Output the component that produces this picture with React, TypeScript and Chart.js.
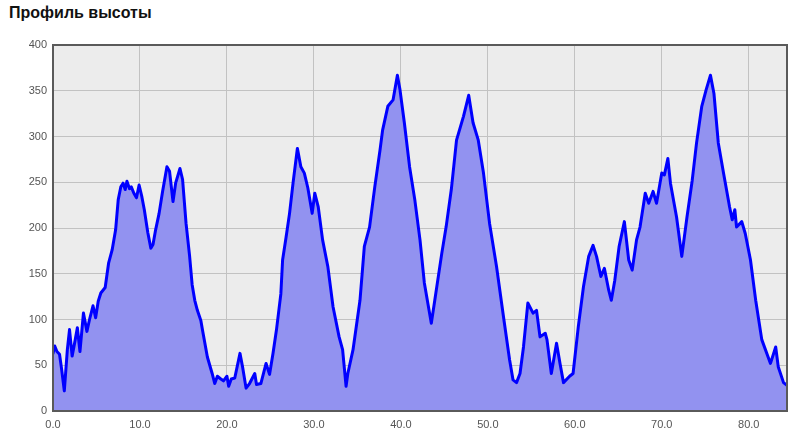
import React, { useEffect, useRef } from "react";
import { Chart, registerables } from "chart.js";

Chart.register(...registerables);

const TITLE = "Профиль высоты";

const distanceKm = [
  0, 0.2, 0.45, 0.75, 1.0, 1.3, 1.65, 1.9, 2.2, 2.5, 2.8, 3.1, 3.5, 3.9, 4.2, 4.6, 4.9, 5.2, 5.5, 6.0,
  6.4, 6.8, 7.2, 7.5, 7.8, 8.06, 8.3, 8.5, 8.8, 9.0, 9.3, 9.6, 9.9, 10.2, 10.5, 10.9, 11.25, 11.5, 11.8, 12.2,
  12.6, 13.1, 13.4, 13.8, 14.1, 14.6, 14.9, 15.3, 15.7, 16.0, 16.3, 16.6, 17.0, 17.2, 17.75, 18.3, 18.6, 18.9, 19.3, 19.6,
  20.0, 20.2, 20.5, 20.9, 21.5, 21.8, 22.2, 22.6, 23.2, 23.4, 23.9, 24.5, 24.9, 25.3, 25.7, 26.2, 26.4, 26.8, 27.2, 27.6,
  28.1, 28.5, 28.9, 29.3, 29.8, 30.1, 30.5, 31.0, 31.6, 32.2, 32.9, 33.3, 33.7, 33.9, 34.5, 35.3, 35.8, 36.4, 37.0, 37.6,
  37.9, 38.5, 39.1, 39.6, 39.9, 40.4, 41.0, 41.6, 42.2, 42.7, 43.5, 43.9, 44.7, 45.2, 45.8, 46.4, 47.2, 47.8, 48.3, 48.9,
  49.5, 50.2, 51.0, 51.8, 52.5, 52.9, 53.3, 53.7, 54.1, 54.6, 55.2, 55.6, 56.0, 56.6, 56.8, 57.3, 57.9, 58.3, 58.7, 59.4,
  59.8, 60.4, 61.0, 61.6, 62.1, 62.5, 63.0, 63.4, 63.9, 64.2, 64.6, 65.1, 65.7, 66.2, 66.6, 67.1, 67.5, 68.1, 68.5, 69.0,
  69.4, 70.0, 70.3, 70.7, 71.0, 71.7, 72.3, 72.9, 73.5, 74.0, 74.6, 75.1, 75.6, 76.0, 76.5, 77.1, 77.8, 78.1, 78.4, 78.6,
  79.2, 79.6, 80.2, 80.8, 81.5, 82.5, 83.1, 83.4, 84.0, 84.4,
];

const elevationM = [
  63, 71, 65, 62, 45, 22, 67, 89, 60, 75, 91, 65, 107, 87, 100, 115, 102, 120, 129, 135,
  162, 176, 198, 231, 245, 249, 242, 251, 243, 245, 238, 233, 247, 235, 220, 195, 178, 182, 198, 216,
  240, 267, 262, 229, 249, 265, 253, 205, 170, 138, 121, 110, 99, 88, 59, 41, 30, 38, 35, 33,
  38, 27, 35, 36, 63, 48, 25, 30, 41, 29, 30, 52, 40, 63, 89, 128, 165, 190, 216, 249,
  287, 267, 260, 244, 216, 238, 223, 187, 158, 114, 81, 67, 27, 41, 67, 121, 180, 201, 245, 285,
  307, 333, 340, 367, 351, 315, 267, 231, 187, 140, 96, 121, 172, 201, 242, 296, 322, 345, 315, 296,
  260, 205, 158, 103, 56, 34, 31, 41, 70, 118, 107, 110, 81, 85, 78, 41, 74, 52, 31, 38,
  41, 92, 136, 169, 181, 169, 147, 156, 132, 121, 143, 180, 207, 165, 154, 187, 201, 238, 227, 240,
  227, 260, 258, 276, 249, 212, 169, 212, 252, 293, 333, 351, 367, 347, 293, 260, 223, 209, 220, 201,
  207, 194, 165, 121, 78, 52, 70, 48, 31, 28,
];

const X_MAX = 84.4;
const Y_TICKS = [0, 50, 100, 150, 200, 250, 300, 350, 400];

const plotFrame = {
  id: "plotFrame",
  beforeDraw(chart: any) {
    const { ctx, chartArea: a } = chart;
    ctx.save();
    ctx.fillStyle = "#ececec";
    ctx.fillRect(a.left, a.top, a.right - a.left, a.bottom - a.top);
    ctx.restore();
  },
  afterDraw(chart: any) {
    const { ctx, chartArea: a } = chart;
    ctx.save();
    ctx.strokeStyle = "#5a5a5a";
    ctx.lineWidth = 2;
    ctx.strokeRect(a.left, a.top, a.right - a.left, a.bottom - a.top);
    ctx.restore();
  },
};

export default function App() {
  const ref = useRef<HTMLCanvasElement>(null);

  useEffect(() => {
    if (!ref.current) return;
    const points = distanceKm.map((x, i) => ({ x, y: elevationM[i] }));
    const chart = new Chart(ref.current, {
      type: "line",
      data: {
        datasets: [
          {
            data: points,
            borderColor: "#0000ff",
            borderWidth: 3,
            borderJoinStyle: "round",
            borderCapStyle: "round",
            backgroundColor: "#9292f0",
            fill: "origin",
            pointRadius: 0,
            tension: 0,
          },
        ],
      },
      options: {
        animation: false,
        responsive: false,
        maintainAspectRatio: false,
        layout: { padding: { top: 45, right: 13, bottom: 0, left: 0 } },
        plugins: { legend: { display: false }, title: { display: false }, tooltip: { enabled: false } },
        scales: {
          x: {
            type: "linear",
            min: 0,
            max: X_MAX,
            border: { display: false },
            grid: { color: "#c2c2c2", lineWidth: 1, drawTicks: false },
            ticks: {
              stepSize: 10,
              includeBounds: false,
              maxRotation: 0,
              padding: 7,
              color: "#555",
              font: { family: "Arial, 'Liberation Sans'", size: 11 },
              callback: (v: any) => Number(v).toFixed(1),
            },
            afterFit: (s: any) => {
              s.height = 22;
            },
          },
          y: {
            min: 0,
            max: 400,
            border: { display: false },
            grid: { color: "#c2c2c2", lineWidth: 1, drawTicks: false },
            afterBuildTicks: (s: any) => {
              s.ticks = Y_TICKS.map((v) => ({ value: v }));
            },
            ticks: {
              padding: 6,
              color: "#555",
              font: { family: "Arial, 'Liberation Sans'", size: 11 },
            },
            afterFit: (s: any) => {
              s.width = 53;
            },
          },
        },
      },
      plugins: [plotFrame],
    });
    return () => chart.destroy();
  }, []);

  return (
    <div style={{ position: "fixed", left: 0, top: 0, width: 800, height: 433, background: "#fff" }}>
      <div
        style={{
          position: "absolute",
          left: 9,
          top: 4,
          fontFamily: "Arial, 'Liberation Sans', sans-serif",
          fontWeight: "bold",
          fontSize: 16,
          color: "#111",
        }}
      >
        {TITLE}
      </div>
      <canvas ref={ref} width={800} height={433} style={{ position: "absolute", left: 0, top: 0 }} />
    </div>
  );
}
